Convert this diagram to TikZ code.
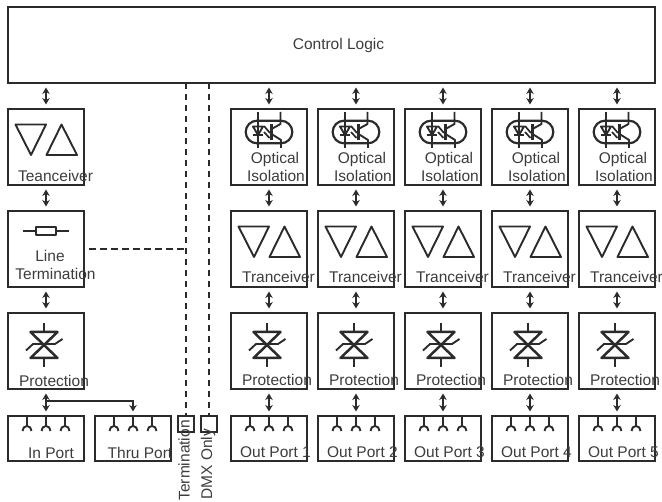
\documentclass[tikz,border=0pt]{standalone}
\usepackage{fontspec}
\setmainfont{Liberation Sans}
\usetikzlibrary{arrows.meta}
\definecolor{ink}{HTML}{2B2B2B}
\definecolor{txt}{HTML}{3C3C3C}
\tikzset{
  box/.style={draw=ink,line width=2pt,inner sep=0pt,outer sep=0pt,minimum width=76pt,minimum height=76pt},
  portbox/.style={box,minimum height=45pt},
  tinybox/.style={box,minimum width=16pt,minimum height=16pt},
  lbl/.style={anchor=base,inner sep=0pt,outer sep=0pt,text=txt,font=\fontsize{15.5}{18}\selectfont},
  vlbl/.style={lbl,rotate=90,anchor=base west},
  dbl/.style={ink,line width=1.9pt,{Stealth[length=6.5pt,width=7.5pt]}-{Stealth[length=6.5pt,width=7.5pt]},shorten <=4.5pt,shorten >=4.5pt},
  sgl/.style={ink,line width=1.9pt,-{Stealth[length=6.5pt,width=7.5pt]},shorten >=4.5pt},
  dsh/.style={ink,line width=2pt,dash pattern=on 6.5pt off 4.5pt},
  sym/.style={ink,line width=1.9pt,line join=round},
  pics/xcvr/.style={code={
    \draw[sym] (7.5,15.5) -- (38,15.5) -- (23,46) -- cycle;
    \draw[sym] (38.5,46) -- (69,46) -- (53.5,15.5) -- cycle;
  }},
  pics/resistor/.style={code={
    \draw[sym] (14.7,19.7) -- (28,19.7) (48,19.7) -- (61,19.7);
    \draw[sym,line width=2.2pt] (28,15.7) rectangle (48,24);
  }},
  pics/tvs/.style={code={
    \draw[sym,line width=2.5pt] (22.5,19) -- (49.5,19) -- (22.5,45) -- (49.5,45) -- cycle;
    \draw[sym,line width=2.3pt] (36,10) -- (36,19) (36,45) -- (36,54);
    \draw[sym] (18,37.5) -- (25,31) -- (47,31) -- (54.5,26);
  }},
  pics/opto/.style={code={
    \draw[sym,line width=2.2pt] (26,11.7) -- (50,11.7) arc[start angle=-90,end angle=90,radius=11.3] -- (26,34.3) arc[start angle=90,end angle=270,radius=11.3] -- cycle;
    \draw[sym] (27,3) -- (27,39);
    \draw[sym] (22,17.5) -- (32,17.5) -- (27,26) -- cycle;
    \draw[sym] (22,26) -- (32,26);
    \draw[sym,line width=2.2pt] (40.5,15) -- (40.5,31);
    \draw[sym] (40.5,20) -- (49.5,15) -- (49.5,3);
    \draw[sym] (40.5,25) -- (50,31) -- (50,39);
    \draw[sym,line width=1.7pt] (33,17) -- (39,24);
    \draw[sym,line width=1.7pt] (33,23) -- (38.5,29);
  }},
  pics/prongs/.style={code={
    \foreach \u in {19,38,57}{
      \draw[sym] (\u,0) -- (\u,10);
      \draw[sym] (\u-4.5,15) .. controls (\u-4.5,12) and (\u-2.5,10) .. (\u,10) .. controls (\u+2.5,10) and (\u+4.5,12) .. (\u+4.5,15);
    }
  }},
}
\begin{document}
\begin{tikzpicture}[x=1pt,y=-1pt]
\useasboundingbox (0,0) rectangle (662,502);

% control logic
\node[box,minimum width=647pt] (ctrl) at (331.5,45) {};
\node[lbl] (ctrltxt) at (338.5,50) {Control Logic};

% left column
\node[box] (ltx) at (46,147) {};
\node[box] (lterm) at (46,249) {};
\node[box] (lprot) at (46,351) {};
\node[portbox] (inp) at (46,438.5) {};
\node[portbox] (thru) at (133,438.5) {};
\node[tinybox] (term) at (186,424) {};
\node[tinybox] (dmx) at (209,424) {};

\pic at (ltx.north west) {xcvr};
\pic at (lterm.north west) {resistor};
\pic at (lprot.north west) {tvs};
\pic at (inp.north west) {prongs};
\pic at (thru.north west) {prongs};

\node[lbl] (ltxt) at (55.5,181.5) {Teanceiver};
\node[lbl] (ltermt) at (50,261.5) {Line};
\node[lbl] (ltermb) at (55.5,279.5) {Termination};
\node[lbl] (lprott) at (54,386.5) {Protection};
\node[lbl] (inpt) at (51,458.5) {In Port};
\node[lbl] (thrut) at (140,458.5) {Thru Port};
\node[vlbl] (termt) at (189.5,500.5) {Termination};
\node[vlbl] (dmxt) at (212,499.5) {DMX Only};

\draw[dbl] (ctrl.south -| ltx.north) -- (ltx.north);
\draw[dbl] (ltx) -- (lterm);
\draw[dbl] (lterm) -- (lprot);
\draw[dbl] (lprot.south) -- (inp.north);
\coordinate (branch) at (46,400.7);
\draw[sgl] (branch) -| (thru.north);
\draw[dsh] (ctrl.south -| term.north) -- (term.north);
\draw[dsh] (ctrl.south -| dmx.north) -- (dmx.north);
\draw[dsh,shorten <=5pt] (lterm.east) -- (lterm.east -| term.north);

% output columns
\foreach \i/\cx in {1/269,2/356,3/443,4/530,5/617}{
  \node[box] (o\i) at (\cx,147) {};
  \node[box] (t\i) at (\cx,249) {};
  \node[box] (p\i) at (\cx,351) {};
  \node[portbox] (q\i) at (\cx,438.5) {};
  \pic at (o\i.north west) {opto};
  \pic at (t\i.north west) {xcvr};
  \pic at (p\i.north west) {tvs};
  \pic at (q\i.north west) {prongs};
  \node[lbl] (oa\i) at (\cx+6,164) {Optical};
  \node[lbl] (ob\i) at (\cx+7,182) {Isolation};
  \node[lbl] (tt\i) at (\cx+9.5,283) {Tranceiver};
  \node[lbl] (pt\i) at (\cx+8,386) {Protection};
  \node[lbl] (qt\i) at (\cx+6.5,458) {Out Port \i};
  \draw[dbl] (ctrl.south -| o\i.north) -- (o\i.north);
  \draw[dbl] (o\i) -- (t\i);
  \draw[dbl] (t\i) -- (p\i);
  \draw[dbl] (p\i.south) -- (q\i.north);
}
\end{tikzpicture}
\end{document}
